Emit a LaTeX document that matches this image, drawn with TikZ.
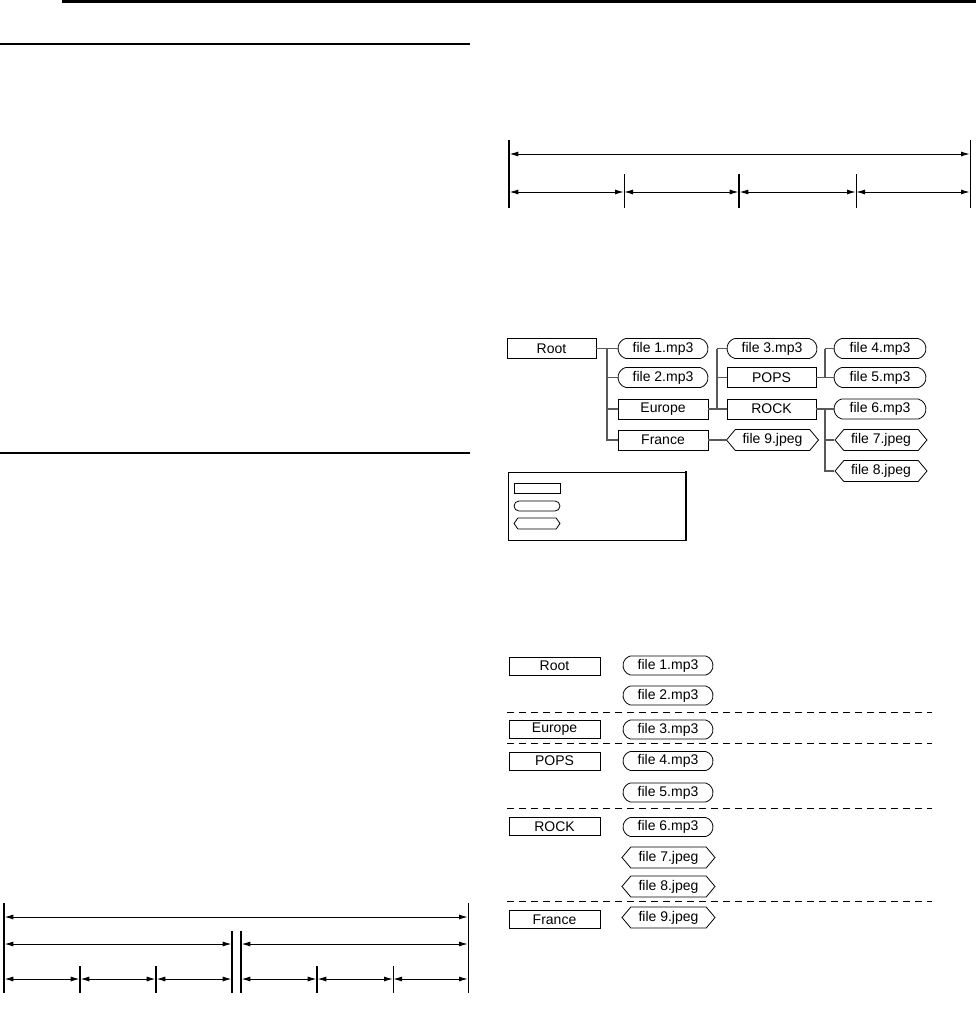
\documentclass[tikz,border=0pt]{standalone}
\usepackage{fontspec}
\setmainfont{Liberation Sans}
\usetikzlibrary{shapes.misc,shapes.symbols,arrows.meta}
\tikzset{
  lbl/.style={font=\fontsize{14}{16}\selectfont},
  fld/.style={draw, line width=0.8pt, rectangle, minimum width=90pt, minimum height=20pt, inner sep=0pt, lbl},
  mp/.style={draw, line width=0.8pt, rounded rectangle, rounded rectangle arc length=150, minimum width=90pt, minimum height=20pt, inner sep=0pt, lbl},
  jp/.style={draw, line width=0.8pt, signal, signal to=west and east, signal pointer angle=100, minimum width=92pt, minimum height=21pt, inner sep=0pt, lbl},
  conn/.style={draw=black!65, line width=1.1pt},
  dim/.style={line width=0.8pt, {Latex[length=8.5pt,width=5pt]}-{Latex[length=8.5pt,width=5pt]}},
  bar/.style={line width=1.5pt},
  thinbar/.style={line width=0.9pt},
  sep/.style={line width=0.8pt, dash pattern=on 7pt off 5pt},
}
\begin{document}
\begin{tikzpicture}[x=1pt,y=-1pt]
\useasboundingbox (0,0) rectangle (976,1033);
% header rules
\fill (62,0) rectangle (976,3);
\draw[line width=1.8pt] (0,44) -- (470,44);
\draw[line width=1.8pt] (0,453) -- (470,453);

% ---------- top-right dimensions ----------
\coordinate (a0) at (509,140); \coordinate (a0b) at (509,208);
\coordinate (a4) at (970,140); \coordinate (a4b) at (970,208);
\coordinate (a1) at (624,174); \coordinate (a1b) at (624,208);
\coordinate (a2) at (739,174); \coordinate (a2b) at (739,208);
\coordinate (a3) at (856,174); \coordinate (a3b) at (856,208);
\draw[bar] (a0) -- (a0b);
\draw[thinbar] (a4) -- (a4b);
\draw[thinbar] (a1) -- (a1b);
\draw[bar] (a2) -- (a2b);
\draw[thinbar] (a3) -- (a3b);
\draw[dim] (509.8,154) -- (969.5,154);
\draw[dim] (509.8,192) -- (623.5,192);
\draw[dim] (624.5,192) -- (738.2,192);
\draw[dim] (739.8,192) -- (855.5,192);
\draw[dim] (856.5,192) -- (969.5,192);

% ---------- tree ----------
\node[fld, minimum width=89pt] (root) at (551.5,348.5) {Root};
\node[mp] (t1) at (663,348.5) {file 1.mp3};
\node[mp] (t2) at (663,377.5) {file 2.mp3};
\node[fld] (teu) at (663,409) {Europe};
\node[fld] (tfr) at (663,440) {France};
\node[mp] (t3) at (772,348.5) {file 3.mp3};
\node[fld, minimum width=89pt] (tpo) at (771.5,377.5) {POPS};
\node[fld, minimum width=89pt] (tro) at (771.5,409) {ROCK};
\node[jp] (t9) at (772.5,440) {file 9.jpeg};
\node[mp, minimum width=92pt] (t4) at (880,348.5) {file 4.mp3};
\node[mp, minimum width=92pt] (t5) at (880,377.5) {file 5.mp3};
\node[mp, minimum width=92pt] (t6) at (880,409) {file 6.mp3};
\node[jp] (t7) at (881,440) {file 7.jpeg};
\node[jp] (t8) at (881,471) {file 8.jpeg};

\coordinate (k1) at (607,348.5);
\coordinate (k2) at (717,348.5);
\coordinate (k3) at (825,348.5);
\coordinate (k4) at (825,409);
\draw[conn] (root.east) -- (t1.west);
\draw[conn] (k1) |- (t2.west);
\draw[conn] (k1) |- (teu.west);
\draw[conn] (k1) |- (tfr.west);
\draw[conn] (teu.east) -- (tro.west);
\draw[conn] (k2) |- (t3.west);
\draw[conn] (k2) |- (tpo.west);
\draw[conn] (k2) -- (717,409);
\draw[conn] (tpo.east) -- (825,377.5);
\draw[conn] (k3) -- (t4.west);
\draw[conn] (k3) |- (t5.west);
\draw[conn] (tro.east) -- (t6.west);
\draw[conn] (k4) |- (t7.west);
\draw[conn] (k4) |- (t8.west);
\draw[conn] (tfr.east) -- (t9.west);

% ---------- legend ----------
\draw[line width=0.9pt] (508,472) rectangle (686,540);
\draw[line width=2pt] (686,471) -- (686,541);
\node[draw, line width=0.8pt, rectangle, minimum width=46pt, minimum height=10pt, inner sep=0pt] (lg1) at (537,488) {};
\node[draw, line width=0.8pt, rounded rectangle, minimum width=46pt, minimum height=10pt, inner sep=0pt] (lg2) at (537,506) {};
\node[draw, line width=0.8pt, signal, signal to=west and east, signal pointer angle=110, minimum width=46pt, minimum height=11pt, inner sep=0pt] (lg3) at (537,523.5) {};

% ---------- list ----------
\node[fld, minimum width=91pt, minimum height=18pt] (lroot) at (554.5,666) {Root};
\node[mp, minimum height=19pt] (l1) at (668,665.5) {file 1.mp3};
\node[mp, minimum height=19pt] (l2) at (668,695.5) {file 2.mp3};
\node[fld, minimum width=91pt, minimum height=18pt] (leu) at (554.5,729.5) {Europe};
\node[mp, minimum height=19pt] (l3) at (668,729.5) {file 3.mp3};
\node[fld, minimum width=91pt, minimum height=18pt] (lpo) at (554.5,761) {POPS};
\node[mp, minimum height=19pt] (l4) at (668,761) {file 4.mp3};
\node[mp, minimum height=19pt] (l5) at (668,792.5) {file 5.mp3};
\node[fld, minimum width=91pt, minimum height=18pt] (lro) at (554.5,826.5) {ROCK};
\node[mp, minimum height=19pt] (l6) at (668,827) {file 6.mp3};
\node[jp, minimum width=93pt] (l7) at (668.5,857.5) {file 7.jpeg};
\node[jp, minimum width=93pt] (l8) at (668.5,886.5) {file 8.jpeg};
\node[fld, minimum width=91pt, minimum height=18pt] (lfr) at (554.5,919.5) {France};
\node[jp, minimum width=93pt] (l9) at (668.5,917.5) {file 9.jpeg};
\draw[sep] (507,712) -- (932,712);
\draw[sep] (507,743) -- (932,743);
\draw[sep] (507,808) -- (932,808);
\draw[sep] (507,901) -- (932,901);

% ---------- bottom-left dimensions ----------
\coordinate (b0) at (4,903);
\coordinate (b7) at (468,903);
\draw[bar] (b0) -- (4,993);
\draw[thinbar] (b7) -- (468,993);
\draw[bar] (232,931) -- (232,993);
\draw[bar] (241,931) -- (241,993);
\draw[bar] (80,966) -- (80,993);
\draw[bar] (156,966) -- (156,993);
\draw[bar] (317,966) -- (317,993);
\draw[thinbar] (393,966) -- (393,993);
\draw[dim] (4.8,917) -- (467.5,917);
\draw[dim] (4.8,944) -- (231.2,944);
\draw[dim] (241.8,944) -- (467.5,944);
\draw[dim] (4.8,979) -- (79.2,979);
\draw[dim] (80.8,979) -- (155.2,979);
\draw[dim] (156.8,979) -- (231.2,979);
\draw[dim] (241.8,979) -- (316.2,979);
\draw[dim] (317.8,979) -- (392.5,979);
\draw[dim] (393.5,979) -- (467.5,979);
\end{tikzpicture}
\end{document}
